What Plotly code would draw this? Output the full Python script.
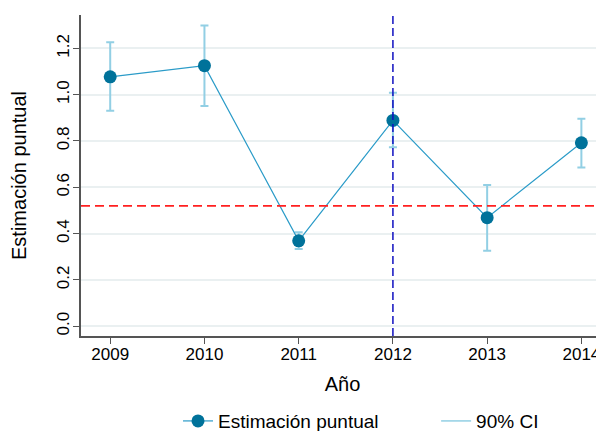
import plotly.graph_objects as go

years = [2009, 2010, 2011, 2012, 2013, 2014]
estimate = [1.077, 1.125, 0.369, 0.889, 0.469, 0.792]
ci_low = [0.931, 0.951, 0.334, 0.773, 0.326, 0.686]
ci_high = [1.226, 1.299, 0.406, 1.008, 0.610, 0.896]
y_ticks = [0.0, 0.2, 0.4, 0.6, 0.8, 1.0, 1.2]
y_tick_labels = ["0.0", "0.2", "0.4", "0.6", "0.8", "1.0", "1.2"]
ref_h = 0.52
ref_year = 2012

C_MARK = "#00729a"
C_LINE = "#2a9bc8"
C_CI = "#92cfe4"
FONT = "Liberation Sans, Arial, sans-serif"

err_plus = [h - e for h, e in zip(ci_high, estimate)]
err_minus = [e - l for e, l in zip(estimate, ci_low)]

fig = go.Figure()

# CI error bars (under the markers)
fig.add_trace(go.Scatter(
    x=years, y=estimate, mode="markers",
    marker=dict(size=1, opacity=0),
    error_y=dict(type="data", symmetric=False, array=err_plus, arrayminus=err_minus,
                 color=C_CI, thickness=2, width=4),
    showlegend=False, hoverinfo="skip",
))

fig.add_trace(go.Scatter(
    x=years, y=estimate, mode="lines+markers", name="Estimación puntual",
    line=dict(color=C_LINE, width=1.2),
    marker=dict(color=C_MARK, size=13),
    legend="legend",
))

fig.add_trace(go.Scatter(
    x=[None], y=[None], mode="lines", name="90% CI",
    line=dict(color=C_CI, width=1.5),
    legend="legend2",
))

fig.add_hline(y=ref_h, line=dict(color="#ff2020", width=1.6, dash="9px,5px"))
fig.add_vline(x=ref_year, line=dict(color="#1010c0", width=1.5, dash="8px,4px"))

# page body has an 8px default margin, so the figure is sized/offset to compensate
leg_common = dict(orientation="h", xanchor="left", y=-0.265, yanchor="middle",
                  font=dict(size=19), bgcolor="rgba(0,0,0,0)")
fig.update_layout(
    width=596, height=423,
    margin=dict(l=73, r=0, t=7, b=95, autoexpand=False),
    paper_bgcolor="white", plot_bgcolor="white",
    font=dict(family=FONT, size=17, color="black"),
    legend=dict(x=0.1855, **leg_common),
    legend2=dict(x=0.679, **leg_common),
)

fig.update_xaxes(
    range=[2008.69, 2014.24], tickvals=years, ticktext=[str(y) for y in years],
    showgrid=False, zeroline=False, showline=True, linecolor="#555555", linewidth=1.5,
    ticks="outside", ticklen=6, tickcolor="#555555", tickwidth=1,
    ticklabelstandoff=-4,
    title=dict(text="Año", standoff=14), automargin=False,
)
fig.update_yaxes(
    range=[-0.042, 1.344], tickvals=y_ticks, ticktext=y_tick_labels, tickangle=-90,
    showgrid=True, gridcolor="#eaf0f1", gridwidth=1.5, zeroline=False,
    showline=True, linecolor="#555555", linewidth=1.5,
    ticks="outside", ticklen=6, tickcolor="#555555", tickwidth=1,
    ticklabelstandoff=-3,
    title=dict(text="Estimación puntual", standoff=25), automargin=False,
)

fig.write_html("out.html")
